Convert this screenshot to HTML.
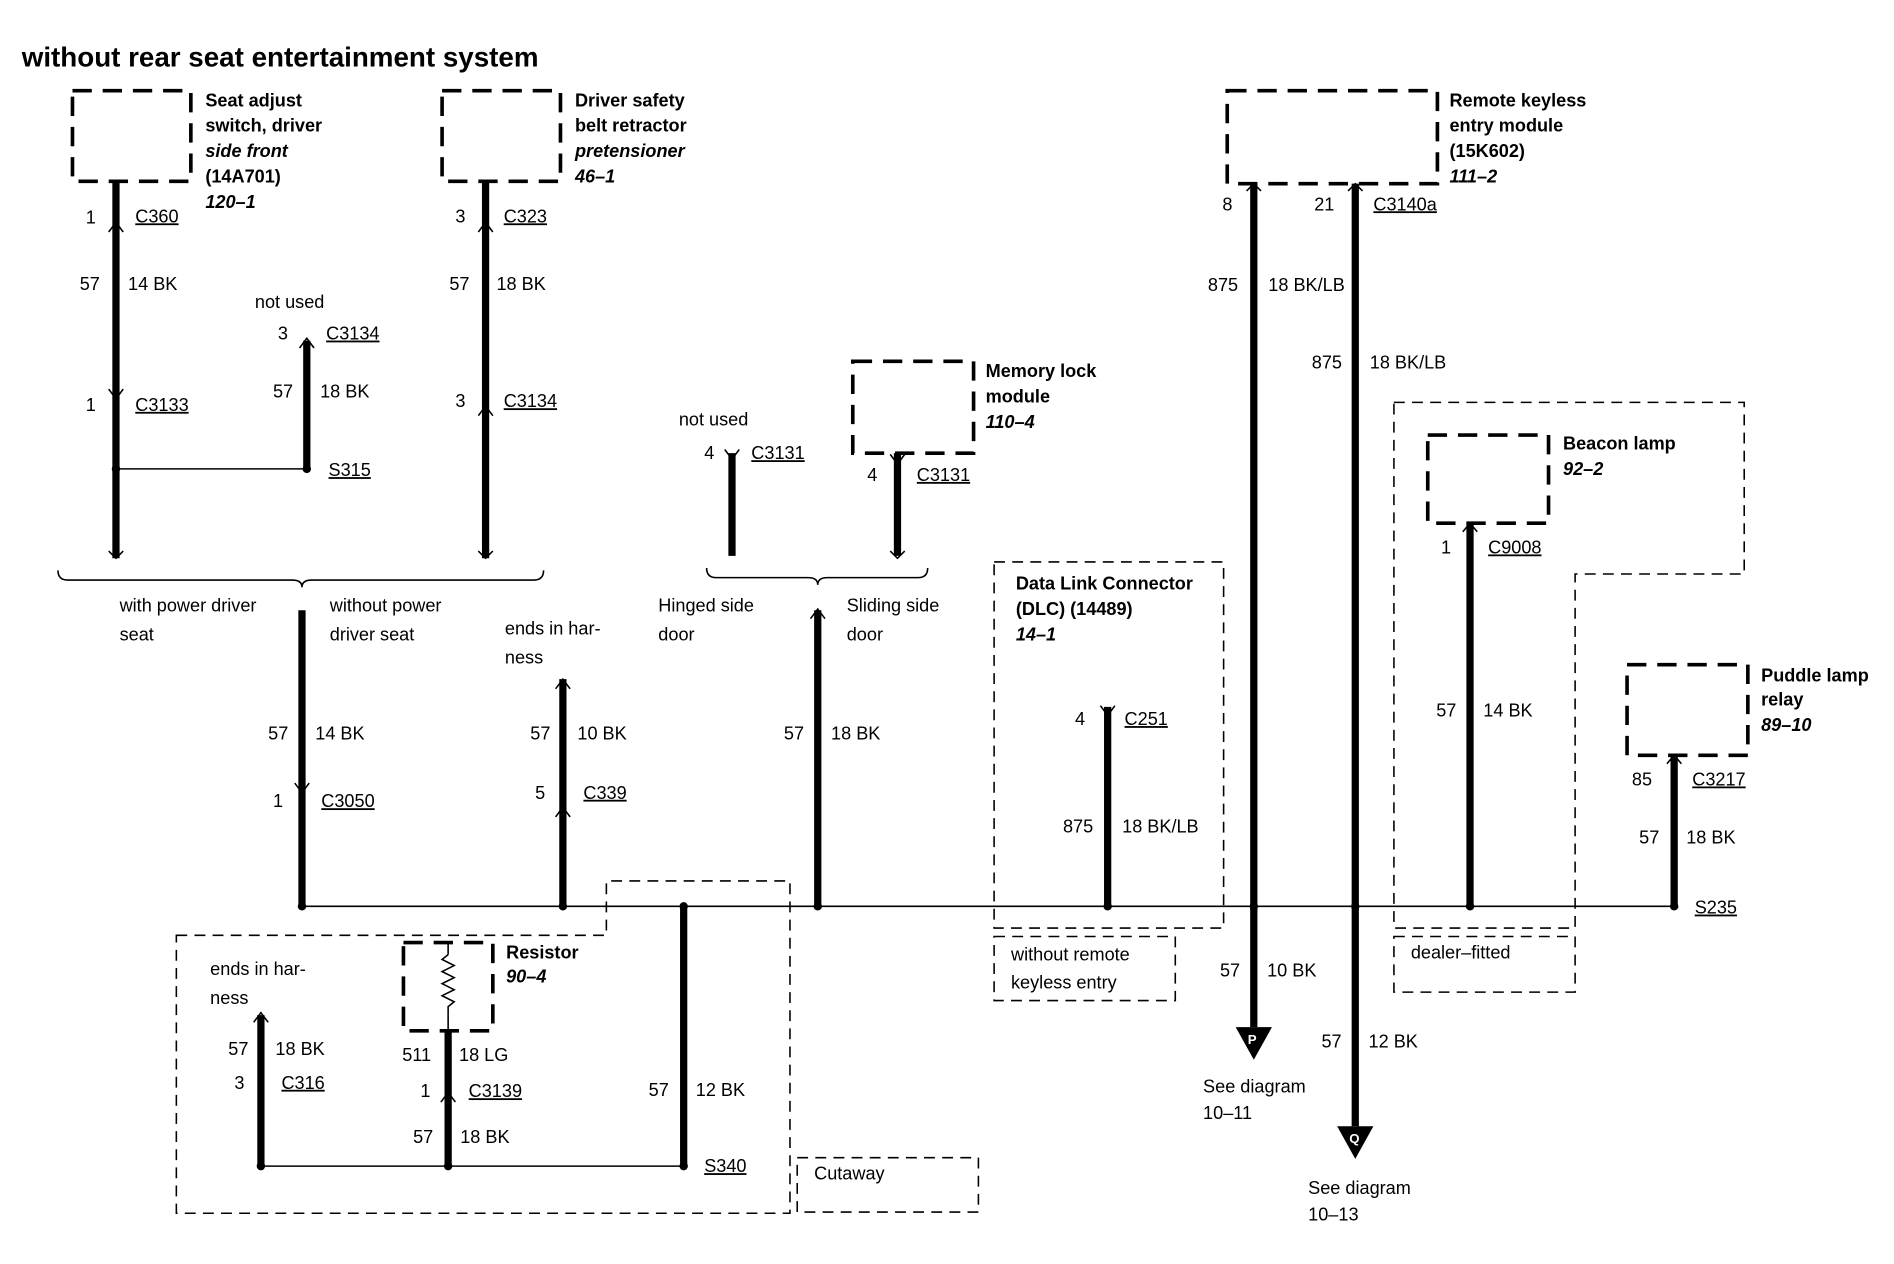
<!DOCTYPE html>
<html><head><meta charset="utf-8"><style>
html,body{margin:0;padding:0;background:#fff}
svg{display:block}
text{font-family:"Liberation Sans",Arial,sans-serif;font-size:15px;fill:#000}
.b{font-weight:bold}
.bi{font-weight:bold;font-style:italic}
.w{stroke:#000;stroke-width:6;fill:none}
.t{stroke:#000;stroke-width:1.3;fill:none}
.bx{stroke:#000;stroke-width:3;fill:none;stroke-dasharray:16,9}
.rg{stroke:#000;stroke-width:1.3;fill:none;stroke-dasharray:9,6}
.u{text-decoration:underline}
</style></head><body>
<svg width="1894" height="1264" viewBox="0 0 1568 1046" preserveAspectRatio="none" xmlns="http://www.w3.org/2000/svg">
<text x="18" y="55" class="b" style="font-size:23px">without rear seat entertainment system</text>

<!-- dashed component boxes -->
<rect class="bx" x="60" y="75" width="98" height="75"/>
<rect class="bx" x="366" y="75" width="98" height="75"/>
<rect class="bx" x="1016" y="75" width="174" height="77"/>
<rect class="bx" x="706" y="299" width="100" height="76"/>
<rect class="bx" x="1182" y="360" width="100" height="73"/>
<rect class="bx" x="1347" y="550" width="100" height="75"/>
<rect class="bx" x="334" y="780" width="74" height="73"/>

<!-- region boxes -->
<rect class="rg" x="823" y="465" width="190" height="303"/>
<rect class="rg" x="823" y="775" width="150" height="53"/>
<polygon class="rg" points="1154,333 1444,333 1444,475 1304,475 1304,768 1154,768"/>
<rect class="rg" x="1154" y="775" width="150" height="46"/>
<polygon class="rg" points="146,774 502,774 502,729 654,729 654,1004 146,1004"/>
<rect class="rg" x="660" y="958" width="150" height="45"/>

<!-- box labels -->
<text class="b" x="170" y="88">Seat adjust</text>
<text class="b" x="170" y="109">switch, driver</text>
<text class="bi" x="170" y="130">side front</text>
<text class="b" x="170" y="151">(14A701)</text>
<text class="bi" x="170" y="172">120–1</text>
<text class="b" x="476" y="88">Driver safety</text>
<text class="b" x="476" y="109">belt retractor</text>
<text class="bi" x="476" y="130">pretensioner</text>
<text class="bi" x="476" y="151">46–1</text>
<text class="b" x="1200" y="88">Remote keyless</text>
<text class="b" x="1200" y="109">entry module</text>
<text class="b" x="1200" y="130">(15K602)</text>
<text class="bi" x="1200" y="151">111–2</text>
<text class="b" x="816" y="312">Memory lock</text>
<text class="b" x="816" y="333">module</text>
<text class="bi" x="816" y="354">110–4</text>
<text class="b" x="1294" y="372">Beacon lamp</text>
<text class="bi" x="1294" y="393">92–2</text>
<text class="b" x="1458" y="564">Puddle lamp</text>
<text class="b" x="1458" y="584">relay</text>
<text class="bi" x="1458" y="605">89–10</text>
<text class="b" x="419" y="793">Resistor</text>
<text class="bi" x="419" y="813">90–4</text>
<text class="b" x="841" y="488">Data Link Connector</text>
<text class="b" x="841" y="509">(DLC) (14489)</text>
<text class="bi" x="841" y="530">14–1</text>
<text x="837" y="795">without remote</text>
<text x="837" y="818">keyless entry</text>
<text x="1168" y="793">dealer–fitted</text>
<text x="674" y="976">Cutaway</text>

<!-- wires -->
<path class="w" d="M96 150V462M254 282V388M402 150V462M250 505V750M466 562V750M566 750V965M216 840V965M371 853V965M606 375V460M743 375V460M677 505V750M917 585V750M1038 152V850M1122 152V932M1217 433V750M1386 625V750"/>
<!-- connector marks -->
<g class="t" stroke-width="2">
<path d="M90 192L96 184L102 192M90 322L96 330L102 322M248 288L254 280L260 288M396 192L402 184L408 192M396 344L402 336L408 344M244 648L250 656L256 648M460 570L466 562L472 570M460 676L466 668L472 676M600 372L606 380L612 372M737 376L743 384L749 376M671 512L677 504L683 512M911 584L917 592L923 584M1032 158L1038 152L1044 158M1116 158L1122 152L1128 158M1211 440L1217 433L1223 440M1380 632L1386 625L1392 632M210 846L216 838L222 846M365 912L371 904L377 912M90 456L96 462L102 456M396 456L402 462L408 456M737 456L743 462L749 456"/>
</g>
<!-- thin lines -->
<path class="t" d="M96 388H254M250 750H1386M216 965H566M371 780V790M371 840V853"/>
<path class="t" stroke-width="1.5" d="M371 790l-5 4l10 5l-10 5l10 5l-10 5l10 5l-10 5l10 5l-5 4V840"/>
<!-- braces -->
<path class="t" stroke-width="2" d="M48 472q0 8 8 8H242q8 0 8 6q0-6 8-6H442q8 0 8-8"/>
<path class="t" stroke-width="2" d="M585 470q0 8 8 8H669q8 0 8 6q0-6 8-6H760q8 0 8-8"/>
<!-- dots -->
<g fill="#000">
<circle cx="96" cy="388" r="3.5"/><circle cx="254" cy="388" r="3.5"/>
<circle cx="250" cy="750" r="3.5"/><circle cx="466" cy="750" r="3.5"/><circle cx="566" cy="750" r="3.5"/><circle cx="677" cy="750" r="3.5"/><circle cx="917" cy="750" r="3.5"/><circle cx="1038" cy="750" r="3.5"/><circle cx="1122" cy="750" r="3.5"/><circle cx="1217" cy="750" r="3.5"/><circle cx="1386" cy="750" r="3.5"/>
<circle cx="216" cy="965" r="3.5"/><circle cx="371" cy="965" r="3.5"/><circle cx="566" cy="965" r="3.5"/>
<polygon points="1023,850 1053,850 1038,877"/>
<polygon points="1107,932 1137,932 1122,959"/>
</g>
<text x="1033" y="864" style="fill:#fff;font-size:11px" class="b">P</text>
<text x="1117" y="946" style="fill:#fff;font-size:11px" class="b">Q</text>

<!-- wire labels -->
<text x="71" y="185">1</text><text x="112" y="184" class="u">C360</text>
<text x="66" y="240">57</text><text x="106" y="240">14 BK</text>
<text x="71" y="340">1</text><text x="112" y="340" class="u">C3133</text>
<text x="272" y="394" class="u">S315</text>
<text x="211" y="255">not used</text>
<text x="230" y="281">3</text><text x="270" y="281" class="u">C3134</text>
<text x="226" y="329">57</text><text x="265" y="329">18 BK</text>
<text x="377" y="184">3</text><text x="417" y="184" class="u">C323</text>
<text x="372" y="240">57</text><text x="411" y="240">18 BK</text>
<text x="377" y="337">3</text><text x="417" y="337" class="u">C3134</text>
<text x="99" y="506">with power driver</text><text x="99" y="530">seat</text>
<text x="273" y="506">without power</text><text x="273" y="530">driver seat</text>
<text x="222" y="612">57</text><text x="261" y="612">14 BK</text>
<text x="226" y="668">1</text><text x="266" y="668" class="u">C3050</text>
<text x="418" y="525">ends in har-</text><text x="418" y="549">ness</text>
<text x="439" y="612">57</text><text x="478" y="612">10 BK</text>
<text x="443" y="661">5</text><text x="483" y="661" class="u">C339</text>
<text x="537" y="907">57</text><text x="576" y="907">12 BK</text>
<text x="583" y="970" class="u">S340</text>
<text x="174" y="807">ends in har-</text><text x="174" y="831">ness</text>
<text x="189" y="873">57</text><text x="228" y="873">18 BK</text>
<text x="194" y="901">3</text><text x="233" y="901" class="u">C316</text>
<text x="333" y="878">511</text><text x="380" y="878">18 LG</text>
<text x="348" y="908">1</text><text x="388" y="908" class="u">C3139</text>
<text x="342" y="946">57</text><text x="381" y="946">18 BK</text>
<text x="562" y="352">not used</text>
<text x="583" y="380">4</text><text x="622" y="380" class="u">C3131</text>
<text x="718" y="398">4</text><text x="759" y="398" class="u">C3131</text>
<text x="545" y="506">Hinged side</text><text x="545" y="530">door</text>
<text x="701" y="506">Sliding side</text><text x="701" y="530">door</text>
<text x="649" y="612">57</text><text x="688" y="612">18 BK</text>
<text x="890" y="600">4</text><text x="931" y="600" class="u">C251</text>
<text x="880" y="689">875</text><text x="929" y="689">18 BK/LB</text>
<text x="1012" y="174">8</text>
<text x="1000" y="241">875</text><text x="1050" y="241">18 BK/LB</text>
<text x="1010" y="808">57</text><text x="1049" y="808">10 BK</text>
<text x="996" y="904">See diagram</text><text x="996" y="926">10–11</text>
<text x="1088" y="174">21</text><text x="1137" y="174" class="u">C3140a</text>
<text x="1086" y="305">875</text><text x="1134" y="305">18 BK/LB</text>
<text x="1094" y="867">57</text><text x="1133" y="867">12 BK</text>
<text x="1083" y="988">See diagram</text><text x="1083" y="1010">10–13</text>
<text x="1193" y="458">1</text><text x="1232" y="458" class="u">C9008</text>
<text x="1189" y="593">57</text><text x="1228" y="593">14 BK</text>
<text x="1351" y="650">85</text><text x="1401" y="650" class="u">C3217</text>
<text x="1357" y="698">57</text><text x="1396" y="698">18 BK</text>
<text x="1403" y="756" class="u">S235</text>
</svg>
</body></html>
